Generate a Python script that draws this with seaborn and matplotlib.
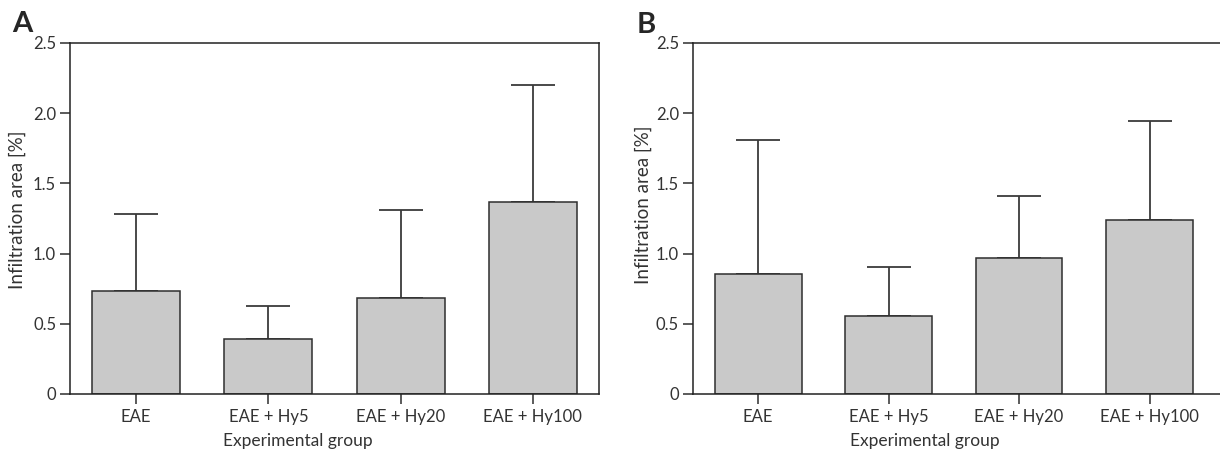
import numpy as np
import pandas as pd
import matplotlib
matplotlib.use('Agg')
import matplotlib.pyplot as plt
import seaborn as sns

groups = ['EAE', 'EAE + Hy5', 'EAE + Hy20', 'EAE + Hy100']

# panel A
mean_a = [0.73, 0.39, 0.685, 1.365]
sd_a = [0.55, 0.24, 0.625, 0.835]

# panel B
mean_b = [0.855, 0.555, 0.97, 1.24]
sd_b = [0.955, 0.35, 0.44, 0.705]

y_ticks = [0, 0.5, 1.0, 1.5, 2.0, 2.5]
y_ticklabels = ['0', '0.5', '1.0', '1.5', '2.0', '2.5']

sns.set_style('white')
plt.rcParams['font.family'] = ['Lato', 'DejaVu Sans']

bar_col = '#c9c9c9'
edge_col = '#2e2e2e'
text_col = '#333333'

fig = plt.figure(figsize=(12.2, 4.54), dpi=100)
ax_a = fig.add_axes([0.0574, 0.1322, 0.4336, 0.7731])
ax_b = fig.add_axes([0.568, 0.1322, 0.432, 0.7731])


def draw_panel(ax, means, sds, xlim, right_spine, xlab_x, ylab_x, ylab_y):
    df = pd.DataFrame({'group': groups, 'value': means})
    sns.barplot(data=df, x='group', y='value', color=bar_col, saturation=1,
                edgecolor=edge_col, linewidth=1.1, width=0.665, ax=ax, zorder=2)
    ax.errorbar(np.arange(len(groups)), means,
                yerr=[np.zeros(len(sds)), sds], fmt='none',
                ecolor='#3a3a3a', elinewidth=1.3, capsize=16, capthick=1.3, zorder=1)
    ax.set_xlim(*xlim)
    ax.set_ylim(0, 2.5)
    ax.set_yticks(y_ticks)
    ax.set_yticklabels(y_ticklabels)
    ax.set_xlabel('Experimental group', fontsize=12.5, color=text_col)
    ax.set_ylabel('Infiltration area [%]', fontsize=13.5, color=text_col)
    ax.xaxis.set_label_coords(xlab_x, -0.112)
    ax.yaxis.set_label_coords(ylab_x, ylab_y)
    ax.tick_params(axis='both', direction='out', length=7, width=1.1,
                   color=edge_col, labelsize=12, labelcolor=text_col, pad=3)
    ax.tick_params(axis='x', pad=4)
    ax.tick_params(left=True, bottom=True)
    for name, sp in ax.spines.items():
        sp.set_color('#222222')
        sp.set_linewidth(1.1)
    ax.spines['right'].set_visible(right_spine)


draw_panel(ax_a, mean_a, sd_a, (-0.5, 3.5), True, 0.43, -0.083, 0.525)
draw_panel(ax_b, mean_b, sd_b, (-0.5, 3.54), False, 0.44, -0.078, 0.54)

fig.text(0.0098, 0.947, 'A', fontsize=21, fontweight='bold', ha='left', va='center')
fig.text(0.522, 0.945, 'B', fontsize=21, fontweight='bold', ha='left', va='center')

fig.savefig('out.png', dpi=100)
